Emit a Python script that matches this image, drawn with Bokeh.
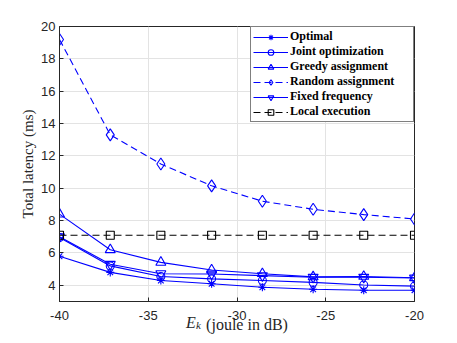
from bokeh.plotting import figure
from bokeh.models import Range1d, FixedTicker, Legend, LinearAxis
from bokeh.embed import file_html
from bokeh.resources import INLINE

# ---- data ----
energy_db = [-40, -37.14, -34.29, -31.43, -28.57, -25.71, -22.86, -20]
optimal = [5.8, 4.8, 4.3, 4.1, 3.88, 3.76, 3.7, 3.7]
joint_opt = [6.95, 5.2, 4.55, 4.4, 4.3, 4.18, 4.02, 3.95]
greedy = [8.4, 6.2, 5.42, 4.95, 4.72, 4.52, 4.55, 4.47]
random_assign = [19.2, 13.3, 11.5, 10.15, 9.2, 8.7, 8.37, 8.1]
fixed_freq = [7.0, 5.3, 4.72, 4.7, 4.6, 4.5, 4.5, 4.45]
local_exec = [7.1, 7.1, 7.1, 7.1, 7.1, 7.1, 7.1, 7.1]
x_ticks = [-40, -35, -30, -25, -20]
y_ticks = [4, 6, 8, 10, 12, 14, 16, 18, 20]

BLUE = "#0000ff"
DARK = "#262626"
NB = "\u00a0"

p = figure(width=449, height=335, output_backend="svg", toolbar_location=None,
           x_range=Range1d(-40, -20), y_range=Range1d(3, 20),
           min_border_left=59, min_border_right=35, min_border_top=26,
           min_border_bottom=33)
p.background_fill_color = "white"
p.border_fill_color = "white"
p.outline_line_color = DARK
p.outline_line_width = 1

series = [
    ("Optimal", optimal, BLUE, "asterisk", 8, None),
    ("Joint optimization", joint_opt, BLUE, "circle", 8, None),
    ("Greedy assignment", greedy, BLUE, "triangle", 10, None),
    ("Random assignment", random_assign, BLUE, "diamond", 12, "7 4"),
    ("Fixed frequency", fixed_freq, BLUE, "inverted_triangle", 10, None),
    ("Local execution", local_exec, "black", "square", 8, "7 4"),
]

items = []
for name, ys, col, mk, sz, dash in series:
    kw = {}
    if dash:
        kw["line_dash"] = dash
    r1 = p.line(energy_db, ys, line_color=col, line_width=1.1, **kw)
    r2 = p.scatter(energy_db, ys, marker=mk, size=sz, fill_color=None,
                   line_color=col, line_width=1.1)
    items.append((name, [r1, r2]))

legend = Legend(items=items, location="top_right", margin=0, padding=2,
                spacing=0, glyph_width=35, glyph_height=14, label_height=14,
                label_width=121, label_standoff=2,
                border_line_color="black", border_line_width=1,
                label_text_font="Liberation Serif", label_text_font_style="bold",
                label_text_font_size="12px", label_text_color="black",
                background_fill_color="white", background_fill_alpha=1)
p.add_layout(legend, "center")

for ax in (p.xaxis[0], p.yaxis[0]):
    ax.major_tick_in = 4
    ax.major_tick_out = 0
    ax.minor_tick_in = 0
    ax.minor_tick_out = 0
    ax.axis_line_color = DARK
    ax.major_tick_line_color = DARK
    ax.major_label_text_font = "Liberation Sans"
    ax.major_label_text_font_size = "13px"
    ax.major_label_text_color = DARK

p.xaxis[0].ticker = FixedTicker(ticks=x_ticks)
p.yaxis[0].ticker = FixedTicker(ticks=y_ticks)
p.xaxis[0].major_label_overrides = {t: str(t) for t in x_ticks}
p.yaxis[0].major_label_overrides = {t: str(t) for t in y_ticks}
p.xaxis[0].major_label_standoff = 9
p.yaxis[0].major_label_standoff = 4

p.yaxis[0].axis_label = "Total latency (ms)"
p.yaxis[0].axis_label_text_font = "Liberation Serif"
p.yaxis[0].axis_label_text_font_style = "normal"
p.yaxis[0].axis_label_text_font_size = "15px"
p.yaxis[0].axis_label_text_color = DARK
p.yaxis[0].axis_label_standoff = 2

p.xgrid.ticker = FixedTicker(ticks=x_ticks)
p.ygrid.ticker = FixedTicker(ticks=y_ticks)
p.grid.grid_line_color = "#e3e3e3"
p.grid.grid_line_width = 1

# x-axis title "E_k (joule in dB)": italic E, italic subscript k, upright rest.
# Each piece is the label of a tick-less axis; no-break spaces shift it sideways.
def label_axis(text, style, size, standoff):
    ax = LinearAxis(ticker=FixedTicker(ticks=[]),
                    axis_line_color=None, major_tick_line_color=None,
                    minor_tick_line_color=None, axis_label=text,
                    axis_label_text_font="Liberation Serif",
                    axis_label_text_font_style=style,
                    axis_label_text_font_size=size,
                    axis_label_text_color=DARK,
                    axis_label_standoff=standoff)
    p.add_layout(ax, "below")

label_axis("E" + NB * 23, "italic", "16px", -9)
label_axis("k" + NB * 28, "italic", "11px", -15)
label_axis(NB * 5 + "(joule in dB)", "normal", "16px", -18)

open("out.html", "w").write(file_html(p, INLINE))
